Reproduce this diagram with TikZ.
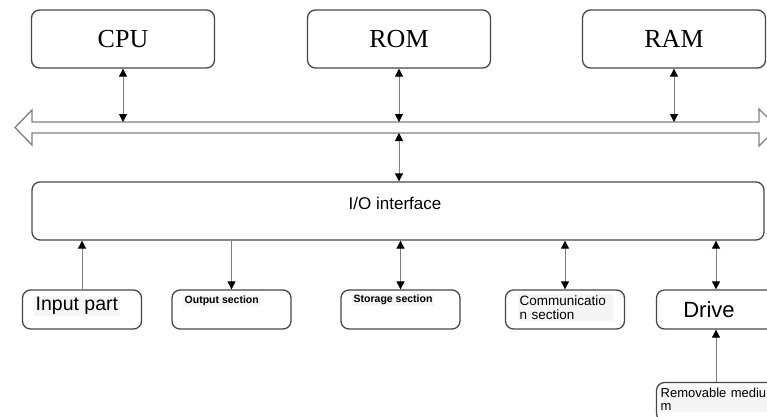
\documentclass[tikz,border=0pt]{standalone}
\usepackage{fontspec}
\setmainfont{Liberation Serif}
\setsansfont{Liberation Sans}
\usetikzlibrary{arrows.meta}
\begin{document}
\begin{tikzpicture}[x=1pt,y=-1pt,
  >={Triangle[width=8pt,length=8pt,color=black]},
  box/.style={draw=black!72, line width=1.3pt, rounded corners=8pt, inner sep=0pt, fill=white},
  topbox/.style={box, minimum width=183pt, minimum height=58pt, font=\fontsize{26}{28}\selectfont},
  botbox/.style={box, minimum width=119pt, minimum height=39pt},
  conn/.style={draw=black!50, line width=0.9pt},
  bus/.style={draw=black!50, line width=1.3pt, fill=white, line join=miter},
  lbl/.style={anchor=west, inner sep=1.5pt, fill=black!4, font=\sffamily\fontsize{#1}{#1}\selectfont, align=left},
  smalllbl/.style={anchor=west, inner sep=1.5pt, fill=black!4, font=\sffamily\bfseries\fontsize{#1}{#1}\selectfont, align=left}
]
\clip (0,0) rectangle (767,416);
\fill[white] (0,0) rectangle (767,416);

% top boxes
\node[topbox] (cpu) at (123,39) {CPU};
\node[topbox] (rom) at (399,39) {ROM};
\node[topbox] (ram) at (674,39) {RAM};

% bus
\draw[bus] (15,127.5) -- (32,110) -- (32,122) -- (759,122) -- (759,109) -- (777.5,127.5)
  -- (759,146) -- (759,133) -- (32,133) -- (32,145) -- cycle;
\coordinate (bT) at (0,122);
\coordinate (bB) at (0,133);

% I/O interface
\node[box, minimum width=732pt, minimum height=58pt] (io) at (398,211) {};
\node[font=\sffamily\fontsize{17}{17}\selectfont, inner sep=0pt] (iol) at (395,203) {I/O interface};

% bottom boxes
\node[botbox] (inp) at (82,309.5) {};
\node[botbox] (out) at (231.5,309.5) {};
\node[botbox] (sto) at (400.5,309.5) {};
\node[botbox] (com) at (565,309.5) {};
\node[botbox] (drv) at (716,309.5) {};
\node[botbox] (rem) at (716,402) {};

\node[lbl=19.5] (inpl) at (34,306) {Input part};
\node[smalllbl=10.5] (outl) at (183,301) {Output section};
\node[smalllbl=10.5] (stol) at (352,300) {Storage section};
\node[lbl=13.5, text width=92pt] (coml) at (518,307.5) {Communicatio\\n section};
\node[font=\sffamily\fontsize{22}{22}\selectfont, inner sep=0pt] (drvl) at (709,310) {Drive};
\node[lbl=13, text width=120pt] (reml) at (659,399.5) {Removable mediu\\m};

% connectors
\draw[conn,<->] (cpu.south) -- (cpu.south |- bT);
\draw[conn,<->] (rom.south) -- (rom.south |- bT);
\draw[conn,<->] (ram.south) -- (ram.south |- bT);
\draw[conn,<->] (rom.south |- bB) -- (rom.south |- io.north);
\draw[conn,->] (inp.north) -- (inp.north |- io.south);
\draw[conn,->] (out.north |- io.south) -- (out.north);
\draw[conn,<->] (sto.north |- io.south) -- (sto.north);
\draw[conn,<->] (com.north |- io.south) -- (com.north);
\draw[conn,<->] (drv.north |- io.south) -- (drv.north);
\draw[conn,->] (rem.north) -- (drv.south);
\end{tikzpicture}
\end{document}
